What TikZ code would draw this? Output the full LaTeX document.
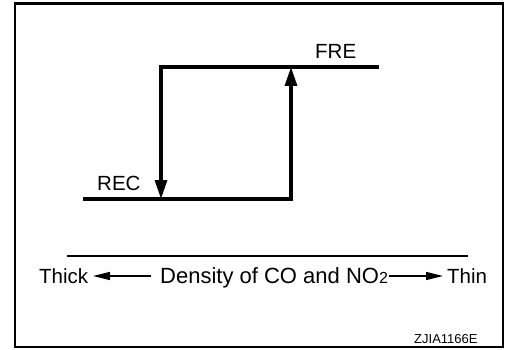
\documentclass[tikz,border=0pt]{standalone}
\usepackage{fontspec}
\setmainfont{Liberation Sans}
\usetikzlibrary{arrows.meta}
\begin{document}
\begin{tikzpicture}[x=1pt,y=-1pt,
  graphline/.style={line width=3.2pt},
  bigtip/.style={-{Triangle[length=19pt,width=12pt]}},
  smalltip/.style={line width=1.4pt,-{Triangle[length=17pt,width=8pt]}},
  lbl/.style={inner sep=0pt,anchor=base west,font=\fontsize{20.5}{22}\selectfont},
  axislbl/.style={inner sep=0pt,anchor=base west,font=\fontsize{20.5}{22}\selectfont}]
\useasboundingbox (0,0) rectangle (506,350);
\draw[line width=2.8pt] (15,3.5) rectangle (503,347);
% step coordinates
\coordinate (tl) at (161,67);
\coordinate (tr) at (377,67);
\coordinate (bl) at (85,199);
\coordinate (bL) at (161,199);
\coordinate (br) at (291,199);
\coordinate (bR) at (291,67);
\draw[graphline,line cap=rect] (tl) -- (tr);
\draw[graphline,line cap=rect] (bl) -- (br);
\draw[graphline,bigtip] (tl) -- (bL);
\draw[graphline,bigtip] (br) -- (bR);
\node[lbl] (fre) at (315,58.5) {FRE};
\node[lbl] (rec) at (97,190.5) {REC};
% separator
\coordinate (sl) at (67,256);
\coordinate (sr) at (468,256);
\draw[line width=1.5pt] (sl) -- (sr);
% axis
\node[axislbl] (thick) at (39,283.5) {Thick};
\node[axislbl,font=\fontsize{22}{24}\selectfont] (dens) at (160,283.5) {Density of CO and NO{\fontsize{16}{17}\selectfont 2}};
\node[axislbl] (thin) at (447,283.5) {Thin};
\coordinate (la) at (151,276);
\coordinate (lt) at (93,276);
\coordinate (ra) at (389,276);
\coordinate (rt) at (443,276);
\draw[smalltip] (la) -- (lt);
\draw[smalltip] (ra) -- (rt);
\node[inner sep=0pt,anchor=base west,font=\fontsize{13}{14}\selectfont] (code) at (414,343) {ZJIA1166E};
\end{tikzpicture}
\end{document}
